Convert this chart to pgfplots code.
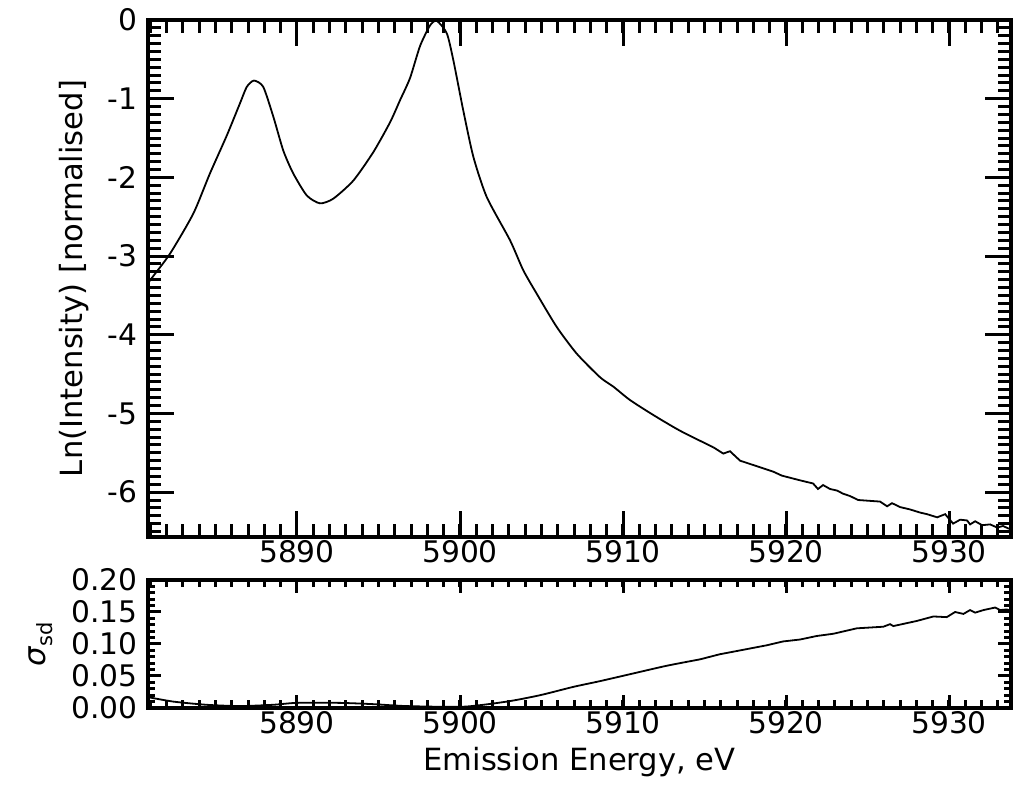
\documentclass[border=0pt]{standalone}
\usepackage{fontspec}
\setmainfont{DejaVu Sans}
\usepackage{pgfplots}
\pgfplotsset{compat=1.18}
\begin{document}
\begin{tikzpicture}[font=\fontsize{30.6}{36}\selectfont]
\path[use as bounding box] (0,0) rectangle (1022pt,784pt);
\pgfplotsset{
 common/.style={
  scale only axis, width=863pt,
  xmin=5880.86, xmax=5933.8,
  tick align=inside,
  axis line style={line width=3.5pt},
  tick style={line width=3pt, black},
  xtick={5890,5900,5910,5920,5930},
  xticklabels={5890,5900,5910,5920,5930},
  minor xtick={5881,5882,...,5933},
  tick label style={font=\fontsize{29.7}{35}\selectfont},
  yticklabel style={xshift=-7pt},
  clip=true,
 },
}
\begin{axis}[common, at={(148pt,247pt)}, anchor=south west, height=517pt,
  ymin=-6.57, ymax=0,
  ytick={-6,-5,-4,-3,-2,-1,0},
  yticklabels={-6,-5,-4,-3,-2,-1,0},
  minor ytick={-6.5,-6.4,...,-0.1},
  major tick length=26pt, minor tick length=13pt]
\addplot[black, line width=1.8pt, smooth, tension=0.4] coordinates {
(5880.86,-3.37) (5880.98,-3.31) (5882.21,-2.97) (5883.64,-2.46) (5884.66,-1.95)
(5885.69,-1.47) (5886.50,-1.06) (5886.92,-0.85) (5887.36,-0.77)
(5887.93,-0.85) (5888.55,-1.23) (5889.16,-1.66) (5889.77,-1.95)
(5890.60,-2.23) (5891.41,-2.33) (5892.23,-2.27)
(5893.46,-2.04) (5894.68,-1.68) (5895.71,-1.30) (5896.32,-1.02) (5896.93,-0.74)
(5897.55,-0.33) (5898.16,-0.07) (5898.57,-0.01) (5899.19,-0.17)
(5899.59,-0.51) (5900.20,-1.15) (5900.82,-1.74) (5901.64,-2.25) (5903.07,-2.80)
(5903.88,-3.18) (5904.71,-3.48) (5905.93,-3.90) (5907.16,-4.24) (5908.59,-4.54)
(5909.41,-4.66) (5910.43,-4.83) (5911.86,-5.02) (5913.50,-5.22) (5915.54,-5.43)
};
\addplot[black, line width=1.8pt] coordinates {
(5915.54,-5.43)
(5916.15,-5.51) (5916.56,-5.48) (5917.18,-5.60) (5919.22,-5.74) (5919.74,-5.79)
(5920.86,-5.85) (5921.66,-5.89) (5921.96,-5.96) (5922.27,-5.91) (5922.70,-5.96)
(5923.13,-5.98) (5923.50,-6.02) (5923.93,-6.05) (5924.42,-6.10) (5925.77,-6.12)
(5926.20,-6.18) (5926.50,-6.14) (5927.00,-6.19) (5927.61,-6.22) (5928.23,-6.26)
(5928.65,-6.28) (5929.27,-6.32) (5929.76,-6.28) (5930.25,-6.40) (5930.68,-6.35)
(5931.11,-6.36) (5931.29,-6.41) (5931.60,-6.37) (5932.03,-6.42) (5932.52,-6.41)
(5932.95,-6.45) (5933.31,-6.43) (5933.62,-6.46) (5933.80,-6.47)
};
\end{axis}
\begin{axis}[common, at={(148pt,76pt)}, anchor=south west, height=128pt,
  ymin=0, ymax=0.2,
  ytick={0,0.05,0.1,0.15,0.2},
  yticklabels={0.00,0.05,0.10,0.15,0.20},
  minor ytick={0.01,0.02,...,0.19},
  major tick length=13pt, minor tick length=7.5pt]
\addplot[black, line width=1.8pt, smooth, tension=0.4] coordinates {
(5880.86,0.017) (5882.41,0.010) (5884.46,0.005) (5886.50,0.003) (5888.53,0.005)
(5889.98,0.008) (5892.64,0.008) (5894.68,0.006) (5896.73,0.003) (5900.20,0.002)
(5902.87,0.010) (5904.91,0.020) (5906.95,0.033) (5908.59,0.042) (5910.63,0.054)
(5912.68,0.066) (5914.72,0.076)
};
\addplot[black, line width=1.8pt] coordinates {
(5914.72,0.076) (5915.94,0.084) (5916.77,0.088) (5918.82,0.098)
(5919.82,0.104) (5920.86,0.107) (5921.88,0.1125) (5922.90,0.116) (5924.34,0.1245)
(5925.97,0.127) (5926.38,0.131) (5926.58,0.128) (5928.02,0.136) (5929.04,0.143)
(5929.86,0.142) (5930.37,0.150) (5930.88,0.147) (5931.29,0.153) (5931.60,0.149)
(5932.11,0.153) (5932.83,0.157) (5933.13,0.153) (5933.54,0.154) (5933.80,0.152)
};
\end{axis}
\node[rotate=90, anchor=base] at (82pt,505.5pt) {Ln(Intensity) [normalised]};
\node[rotate=90, anchor=base] at (45pt,140pt) {\textit{σ}\raisebox{-0.25em}{\fontsize{21}{21}\selectfont sd}};
\node[anchor=base] at (579.5pt,14pt) {Emission Energy, eV};
\end{tikzpicture}
\end{document}
